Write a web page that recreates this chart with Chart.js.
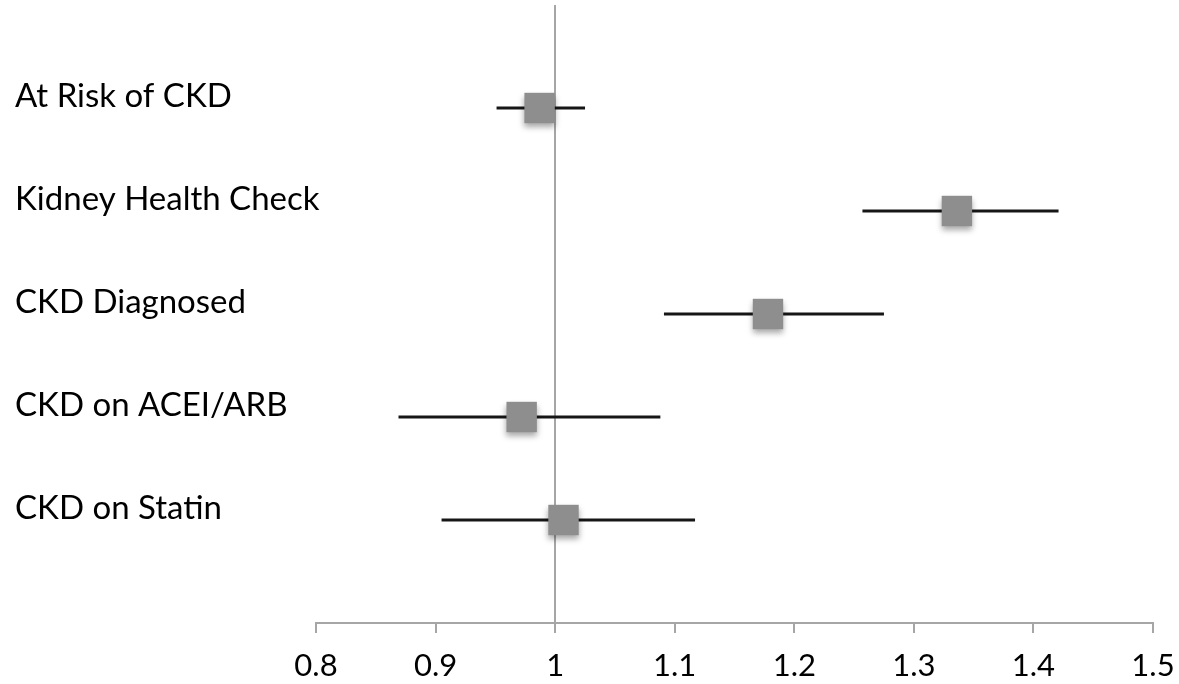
<!DOCTYPE html>
<html>
<head>
<meta charset="utf-8">
<script src="https://cdn.jsdelivr.net/npm/chart.js@4"></script>
<style>
  html, body { margin: 0; padding: 0; background: #fff; }
  #wrap { width: 1179px; height: 684px; position: relative; }
</style>
</head>
<body>
<div id="wrap"><canvas id="forestChart"></canvas></div>
<script>
const categories = ['At Risk of CKD', 'Kidney Health Check', 'CKD Diagnosed', 'CKD on ACEI/ARB', 'CKD on Statin'];
const estimates = [0.987, 1.336, 1.178, 0.972, 1.007];
const lowerCI = [0.951, 1.257, 1.091, 0.869, 0.905];
const upperCI = [1.025, 1.421, 1.275, 1.088, 1.117];
const xTicks = [0.8, 0.9, 1, 1.1, 1.2, 1.3, 1.4, 1.5];

// soft drop shadow under the square markers
const markerShadow = {
    id: 'markerShadow',
    beforeDatasetDraw(chart, args) {
        if (args.index !== 0) return;
        const c = chart.ctx;
        c.save();
        c.shadowColor = 'rgba(0,0,0,0.35)';
        c.shadowBlur = 6;
        c.shadowOffsetY = 4;
    },
    afterDatasetDraw(chart, args) {
        if (args.index !== 0) return;
        chart.ctx.restore();
    }
};

document.addEventListener("DOMContentLoaded", () => {
    const ctx = document.getElementById('forestChart').getContext('2d');
    const n = categories.length;
    const rowY = i => n - i;
    const yAxisWidth = 301;

    const ciSets = categories.map((c, i) => ({
        type: 'line',
        label: c + ' CI',
        data: [{ x: lowerCI[i], y: rowY(i) }, { x: upperCI[i], y: rowY(i) }],
        borderColor: '#161616',
        borderWidth: 3,
        pointRadius: 0,
        order: 2
    }));

    new Chart(ctx, {
        type: 'scatter',
        data: {
            datasets: [{
                label: 'Estimate',
                data: estimates.map((v, i) => ({ x: v, y: rowY(i) })),
                pointStyle: 'rect',
                pointRadius: 21.5,
                pointHoverRadius: 21.5,
                backgroundColor: '#8e8e8e',
                borderWidth: 0,
                order: 0
            }, ...ciSets]
        },
        plugins: [markerShadow],
        options: {
            responsive: true,
            maintainAspectRatio: false,
            animation: false,
            layout: {
                autoPadding: false,
                padding: { left: 15, top: 5, right: 26, bottom: 0 }
            },
            plugins: {
                legend: { display: false },
                tooltip: { enabled: false }
            },
            scales: {
                x: {
                    type: 'linear',
                    min: 0.8,
                    max: 1.5,
                    afterBuildTicks: scale => {
                        scale.ticks = xTicks.map(v => ({ value: v }));
                    },
                    afterFit: scale => {
                        scale.height = 61;
                        scale.paddingLeft = 0;
                        scale.paddingRight = 0;
                    },
                    grid: {
                        color: c => (c.tick && c.tick.value === 1) ? '#a6a6a6' : 'rgba(0,0,0,0)',
                        lineWidth: 2,
                        tickColor: '#a6a6a6',
                        tickLength: 10
                    },
                    border: { display: true, color: '#a6a6a6', width: 2 },
                    ticks: {
                        color: '#000',
                        padding: 14,
                        font: { family: 'Lato', size: 31, lineHeight: 1.2 },
                        callback: v => String(v)
                    }
                },
                y: {
                    type: 'linear',
                    min: 0,
                    max: 6,
                    afterBuildTicks: scale => {
                        scale.ticks = categories.map((c, i) => ({ value: rowY(i) }));
                    },
                    afterFit: scale => {
                        scale.width = yAxisWidth;
                        scale.paddingTop = 0;
                        scale.paddingBottom = 0;
                    },
                    grid: { display: false },
                    border: { display: false },
                    ticks: {
                        // mirrored so long labels are not clipped; pulled back to the left margin
                        mirror: true,
                        padding: -yAxisWidth,
                        crossAlign: 'near',
                        labelOffset: -12,
                        color: '#000',
                        font: { family: 'Lato', size: 33, lineHeight: 0.3 },
                        callback: v => (v >= 1 && v <= n) ? categories[n - v] : ''
                    }
                }
            }
        }
    });
});
</script>
</body>
</html>
